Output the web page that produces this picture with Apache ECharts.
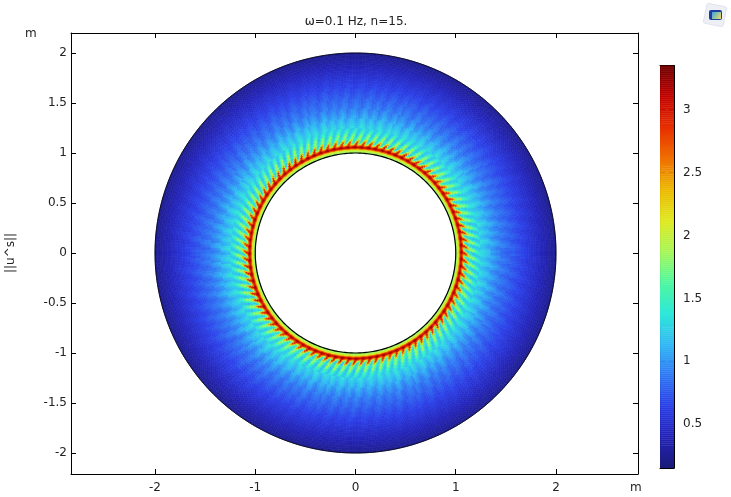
<!DOCTYPE html>
<html><head><meta charset="utf-8">
<style>html,body{margin:0;padding:0;background:#fff}#c{width:731px;height:497px}</style>
<script src="https://cdn.jsdelivr.net/npm/echarts@6/dist/echarts.min.js"></script>
</head><body><div id="c"></div>
<script>
// Annulus field. The ring-by-ring means are read from the picture; the fine ripple
// is an approximation assembled from hand-read lookup tables, not a point-by-point reading.
const title = 'ω=0.1 Hz, n=15.';
const xTicks = [-2, -1, 0, 1, 2];
const yTicks = [-2, -1.5, -1, -0.5, 0, 0.5, 1, 1.5, 2];
const barTicks = [0.5, 1, 1.5, 2, 2.5, 3];
const boundaryRadii = [1, 2];
const fieldMin = 0.153, fieldMax = 3.35;
const palette = ['#1c1c78','#2424b8','#2c40e8','#3078f4','#30b8f4','#30e8d8','#50f8a0','#a8f858','#e0e820','#ecb800','#f07000','#e83000','#c40400','#700000'];

// inner rings, 0.01 m thick from r = 1.00
const innerStart = [1.00,1.01,1.02,1.03,1.04,1.05,1.06,1.07,1.08,1.09,1.10,1.11,1.12,1.13,1.14,1.15,1.16,1.17,1.18,1.19,1.20,1.21,1.22,1.23,1.24];
const innerMean  = [1.82,1.88,1.98,2.20,2.75,3.12,3.08,2.78,2.40,2.25,2.10,1.95,1.80,1.68,1.58,1.55,1.55,1.52,1.48,1.44,1.40,1.37,1.34,1.31,1.29];
const innerAmp   = [0,0,0.03,0.06,0.08,0.10,0.15,0.30,0.60,0.85,0.90,0.85,0.70,0.50,0.30,0.30,0.38,0.40,0.36,0.30,0.25,0.20,0.16,0.14,0.12];
const innerShift = [0,0,0,0,0,0,0,0,1,1,2,2,3,3,4,4,4,5,5,5,6,6,6,7,7];
// one lobe of the ripple, six samples
const lobeShape = [1, 0.55, -0.25, -0.8, -0.8, 0.1];
// slow strength change round the ring, 24 sectors from angle 0
const sectorStrength = [1.05,0.95,0.9,1.0,1.05,0.95,0.9,1.0,1.1,1.05,1.0,0.95,1.05,1.1,1.0,0.9,1.0,1.1,1.0,0.9,1.0,1.05,0.95,1.0];

// outer rings, 0.025 m thick from r = 1.25
const outerStart = [1.25,1.275,1.30,1.325,1.35,1.375,1.40,1.425,1.45,1.475,1.50,1.525,1.55,1.575,1.60,1.625,1.65,1.675,1.70,1.725,1.75,1.775,1.80,1.825,1.85,1.875,1.90,1.925,1.95,1.975];
const outerMean  = [1.26,1.21,1.16,1.11,1.06,1.01,0.97,0.93,0.89,0.86,0.83,0.80,0.77,0.74,0.71,0.68,0.65,0.62,0.59,0.56,0.53,0.50,0.47,0.44,0.41,0.38,0.35,0.32,0.29,0.26];
const outerAmp   = [0.11,0.10,0.10,0.09,0.09,0.08,0.08,0.07,0.07,0.06,0.06,0.05,0.05,0.05,0.04,0.04,0.04,0.03,0.03,0.03,0.02,0.02,0.02,0.01,0.01,0.01,0.01,0,0,0];
const outerShift = [0,0,0,0,1,1,1,1,2,2,2,2,3,3,3,3,4,4,4,4,5,5,5,5,6,6,6,6,7,7];
const streakShape = [0.8,0.2,-0.7,-0.4,0.6,0.9,-0.2,-0.9,0.1,0.7,-0.3,-0.6,0.5,1,0,-0.8,-0.2,0.6,0.4,-0.5,-0.9,0.3,0.8,-0.1,-0.7,0.2,0.5,-0.4,-0.6,0.7,0.9,-0.3,-1,0,0.6,0.3,-0.5];

const innerCells = 576, outerCells = 360, cellsPerLobe = lobeShape.length;
const innerThickness = 0.01, outerThickness = 0.025;

function clampValue(v){ return Math.min(fieldMax, Math.max(fieldMin, v)); }
const fieldData = [];
innerStart.forEach(function(r0, j){
  for (let i = 0; i < innerCells; i++) {
    const sector = sectorStrength[Math.floor(i / innerCells * sectorStrength.length)];
    const lobe = lobeShape[(i + innerShift[j]) % cellsPerLobe];
    const v = innerMean[j] + innerAmp[j] * sector * lobe;
    fieldData.push([r0, innerThickness, clampValue(v), i / innerCells, 1 / innerCells]);
  }
});
outerStart.forEach(function(r0, j){
  for (let i = 0; i < outerCells; i++) {
    const streak = streakShape[(i + outerShift[j]) % streakShape.length];
    const v = outerMean[j] + outerAmp[j] * streak;
    fieldData.push([r0, outerThickness, clampValue(v), i / outerCells, 1 / outerCells]);
  }
});

const barLevels = [];
const barSteps = 200;
for (let k = 0; k < barSteps; k++) {
  barLevels.push([0, fieldMin + (fieldMax - fieldMin) * k / barSteps, fieldMin + (fieldMax - fieldMin) * (k + 0.5) / barSteps]);
}
const barStep = (fieldMax - fieldMin) / barSteps;

const font = 'DejaVu Sans', ink = '#222', fs = 12;
const axisBits = function(ticks, labels, extra){
  return Object.assign({
    type:'value', scale:true,
    splitLine:{show:false},
    axisLine:{show:true, onZero:false, lineStyle:{color:'#000', width:1}},
    axisTick:{show:true, inside:true, length:5, customValues:ticks, lineStyle:{color:'#000', width:1}},
    axisLabel: labels ? {show:true, customValues:ticks, fontFamily:font, fontSize:fs, color:ink, margin:labels, showMinLabel:true, showMaxLabel:true} : {show:false}
  }, extra);
};
const xMin = -2.838, xMax = 2.818, yMin = -2.21, yMax = 2.2;

const chart = echarts.init(document.getElementById('c'), null, {renderer:'canvas'});
chart.setOption({
  animation:false,
  backgroundColor:'#fff',
  title:{text:title, left:351, top:11, textAlign:'center', textStyle:{fontFamily:font, fontSize:fs, fontWeight:'normal', color:ink}},
  grid:[
    {left:71, top:33, width:567, height:441, show:false},
    {left:660, top:65.5, width:14, height:402.5, show:false}
  ],
  xAxis:[
    axisBits(xTicks, 8, {gridIndex:0, position:'bottom', min:xMin, max:xMax}),
    axisBits(xTicks, 0, {gridIndex:0, position:'top', min:xMin, max:xMax}),
    {type:'value', gridIndex:1, min:0, max:1, position:'bottom', axisLine:{show:true, onZero:false, lineStyle:{color:'#000', width:1}}, axisTick:{show:false}, axisLabel:{show:false}, splitLine:{show:false}},
    {type:'value', gridIndex:1, min:0, max:1, position:'top', axisLine:{show:true, onZero:false, lineStyle:{color:'#000', width:1}}, axisTick:{show:false}, axisLabel:{show:false}, splitLine:{show:false}}
  ],
  yAxis:[
    axisBits(yTicks, 4, {gridIndex:0, position:'left', min:yMin, max:yMax}),
    axisBits(yTicks, 0, {gridIndex:0, position:'right', min:yMin, max:yMax}),
    axisBits(barTicks, 9, {gridIndex:1, position:'right', min:fieldMin, max:fieldMax}),
    axisBits(barTicks, 0, {gridIndex:1, position:'left', min:fieldMin, max:fieldMax})
  ],
  visualMap:{type:'continuous', show:false, min:fieldMin, max:fieldMax, dimension:2, seriesIndex:[0,2], inRange:{color:palette}},
  series:[
    {type:'custom', xAxisIndex:0, yAxisIndex:0, silent:true, clip:false, z:2, progressive:0, progressiveThreshold:10000000,
     dimensions:['r','dr','value','a','da'], encode:{x:0, y:1}, data:fieldData,
     renderItem:function(params, api){
       const r0 = api.value(0), r1 = r0 + api.value(1);
       const a0 = api.value(3) * 2 * Math.PI, a1 = a0 + api.value(4) * 2 * Math.PI;
       const c = api.visual('color');
       return {type:'polygon', silent:true, shape:{points:[
         api.coord([r0*Math.cos(a0), r0*Math.sin(a0)]),
         api.coord([r1*Math.cos(a0), r1*Math.sin(a0)]),
         api.coord([r1*Math.cos(a1), r1*Math.sin(a1)]),
         api.coord([r0*Math.cos(a1), r0*Math.sin(a1)])
       ]}, style:{fill:c, stroke:c, lineWidth:0.6}};
     }},
    {type:'custom', xAxisIndex:0, yAxisIndex:0, silent:true, clip:false, z:3,
     encode:{x:0, y:0}, data:boundaryRadii.map(function(r){return [r];}),
     renderItem:function(params, api){
       const r = api.value(0), pts = [];
       for (let d = 0; d < 360; d++) {
         const a = d * Math.PI / 180;
         pts.push(api.coord([r*Math.cos(a), r*Math.sin(a)]));
       }
       return {type:'polygon', silent:true, shape:{points:pts}, style:{fill:'none', stroke:'#000', lineWidth: r === boundaryRadii[0] ? 1.2 : 0.8}};
     }},
    {type:'custom', xAxisIndex:2, yAxisIndex:2, silent:true, clip:true, z:2,
     dimensions:['x','low','value'], encode:{x:0, y:1}, data:barLevels,
     renderItem:function(params, api){
       const p0 = api.coord([0, api.value(1)]), p1 = api.coord([1, api.value(1) + barStep]);
       const c = api.visual('color');
       return {type:'rect', silent:true, shape:{x:p0[0], y:p1[1], width:p1[0]-p0[0], height:p0[1]-p1[1]}, style:{fill:c, stroke:c, lineWidth:0.5}};
     }}
  ],
  graphic:[
    {type:'text', left:25, top:28, silent:true, style:{text:'m', font:fs+'px "DejaVu Sans"', fill:ink}},
    {type:'text', left:630, top:482, silent:true, style:{text:'m', font:fs+'px "DejaVu Sans"', fill:ink}},
    {type:'text', x:11, y:253, rotation:Math.PI/2, silent:true, style:{text:'||u^s||', font:fs+'px "DejaVu Sans"', fill:ink, align:'center', verticalAlign:'middle'}},
    {type:'group', x:715, y:15, silent:true, children:[
      {type:'rect', rotation:-0.2, shape:{x:-10, y:-10, width:20, height:20, r:2}, style:{fill:'#eef0f6', stroke:'#e0e3ea', lineWidth:1}},
      {type:'rect', shape:{x:-6, y:-5, width:13, height:10, r:2}, style:{fill:'#1c3f9e'}},
      {type:'rect', shape:{x:-3, y:-3, width:9, height:7}, style:{fill:new echarts.graphic.LinearGradient(0,0,1,1,[{offset:0,color:'#3fa0e0'},{offset:1,color:'#f4e060'}])}}
    ]}
  ]
});
</script></body></html>
